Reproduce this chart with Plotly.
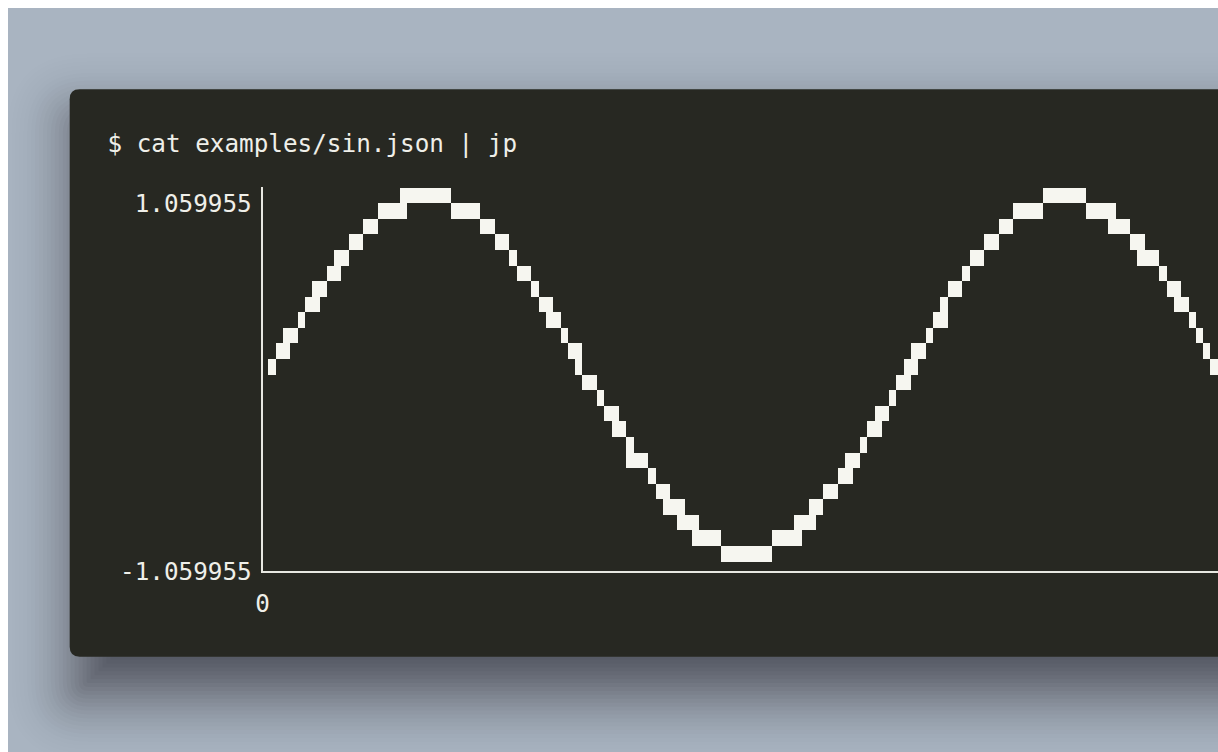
import math
import plotly.graph_objects as go

# ---- data (quarter-block grid: column index, row index from the top) ----
columns = list(range(130))
top_row = [11, 10, 9, 9, 8, 7, 6, 6, 5, 4,
           4, 3, 3, 2, 2, 1, 1, 1, 0, 0,
           0, 0, 0, 0, 0, 1, 1, 1, 1, 2,
           2, 3, 3, 4, 5, 5, 6, 7, 7, 8,
           9, 10, 10, 12, 12, 13, 14, 14, 15, 16,
           17, 17, 18, 19, 19, 20, 20, 21, 21, 22,
           22, 22, 23, 23, 23, 23, 23, 23, 23, 22,
           22, 22, 21, 21, 20, 20, 19, 19, 18, 17,
           17, 16, 15, 14, 14, 13, 12, 11, 10, 10,
           9, 8, 7, 6, 6, 5, 4, 4, 3, 3,
           2, 2, 1, 1, 1, 1, 0, 0, 0, 0,
           0, 0, 1, 1, 1, 1, 2, 2, 3, 3,
           4, 4, 5, 6, 6, 7, 8, 9, 10, 11]
bottom_row = [11, 10, 10, 9, 8, 7, 7, 6, 5, 5,
              4, 3, 3, 2, 2, 1, 1, 1, 1, 0,
              0, 0, 0, 0, 0, 1, 1, 1, 1, 2,
              2, 3, 3, 4, 5, 5, 6, 7, 8, 8,
              9, 10, 11, 12, 12, 13, 14, 15, 15, 17,
              17, 17, 18, 19, 20, 20, 21, 21, 22, 22,
              22, 22, 23, 23, 23, 23, 23, 23, 23, 22,
              22, 22, 22, 21, 21, 20, 19, 19, 18, 18,
              17, 16, 15, 15, 14, 13, 12, 12, 11, 10,
              9, 8, 8, 6, 6, 5, 4, 4, 3, 3,
              2, 2, 1, 1, 1, 1, 0, 0, 0, 0,
              0, 0, 1, 1, 1, 2, 2, 2, 3, 4,
              4, 4, 5, 6, 7, 7, 8, 9, 10, 11]
y_tick_labels = ["1.059955", "-1.059955"]
x_tick_labels = ["0"]
command_text = "$ cat examples/sin.json | jp"

# figure placed 8px from the top-left corner of the page, running to the window edges
OFF = 8
FW, FH = 1218 - OFF, 752 - OFF
def X(px):   # screen px -> paper
    return (px - OFF) / FW
def Y(py):
    return 1 - (py - OFF) / FH

FONT = "DejaVu Sans Mono"
FS = 24.3
FG = "#efefe9"
TERM_BG = "#272822"
BLOCK = "#f6f6f0"
BG = "#a9b4c1"

spans = [b - t + 1 for t, b in zip(top_row, bottom_row)]

fig = go.Figure()
fig.add_trace(go.Bar(
    x=columns, y=spans, base=top_row, width=1,
    marker=dict(color=BLOCK, line=dict(width=0)),
    hoverinfo="skip", showlegend=False,
))

def rrect(x0, y0, x1, y1, r):
    r = max(r, 0.5)
    rx, ry = r / FW, r / FH
    a, b, c, d = X(x0), Y(y0), X(x1), Y(y1)
    return (f"M {a+rx},{b} L {c},{b} L {c},{d} L {a+rx},{d} "
            f"Q {a},{d} {a},{d+ry} L {a},{b-ry} Q {a},{b} {a+rx},{b} Z")

T_L, T_T, T_R, T_B, T_RAD = 63, 91, 1300, 670, 10
shapes = []
# soft drop shadow built from nested translucent rounded rectangles
SIG, DY, INSET, AMP, STEP = 32.0, 35.0, 9.0, 0.5, 4.0
def cover(d):
    return AMP * 0.5 * math.erfc(d / (SIG * math.sqrt(2)))
es = [3 * SIG - STEP * i for i in range(int(6 * SIG / STEP) + 1)]
prev = 0.0
for e in es:
    c = cover(e - STEP / 2)
    a = 1 - (1 - c) / (1 - prev)
    prev = c
    if a <= 0:
        continue
    shapes.append(dict(type="path", xref="paper", yref="paper",
                       path=rrect(T_L + INSET - e, T_T + DY - e, T_R, T_B + DY + e, T_RAD + e),
                       fillcolor=f"rgba(0,0,0,{a:.4f})", line=dict(width=0), layer="below"))
shapes.append(dict(type="path", xref="paper", yref="paper",
                   path=rrect(T_L, T_T, T_R, T_B, T_RAD),
                   fillcolor=TERM_BG, line=dict(width=0), layer="below"))

col_w = 7.345
col0_px = 262.5
x_lo = (257 - col0_px) / col_w - 0.5
x_hi = (1218 - col0_px) / col_w - 0.5
row_h = 15.9
row0_px, y_axis_px, y_top_px = 191.7, 583, 191
y_lo = (y_axis_px - row0_px) / row_h
y_hi = (y_top_px - row0_px) / row_h

fig.update_layout(
    width=FW, height=FH, margin=dict(l=0, r=0, t=0, b=0),
    paper_bgcolor=BG, plot_bgcolor="rgba(0,0,0,0)",
    shapes=shapes, bargap=0,
    title=dict(text=command_text, x=X(101), xanchor="left", xref="paper",
               y=Y(146), yanchor="middle", yref="paper",
               font=dict(family=FONT, size=FS, color=FG)),
    xaxis=dict(domain=[X(257), 1], range=[x_lo, x_hi], showgrid=False, zeroline=False,
               showline=True, linecolor="#e8e8e2", linewidth=2,
               tickmode="array", tickvals=[x_lo], ticktext=x_tick_labels, ticks="",
               ticklabelstandoff=9, tickfont=dict(family=FONT, size=FS, color=FG)),
    yaxis=dict(domain=[Y(y_axis_px), Y(y_top_px)], range=[y_lo, y_hi], showgrid=False,
               zeroline=False, showline=True, linecolor="#e8e8e2", linewidth=2,
               tickmode="array", tickvals=[1.0, y_lo], ticktext=y_tick_labels, ticks="",
               ticklabelstandoff=4, tickfont=dict(family=FONT, size=FS, color=FG)),
)
fig.write_html("out.html",
               post_script="document.body.style.margin='8px 0 0 8px';")
